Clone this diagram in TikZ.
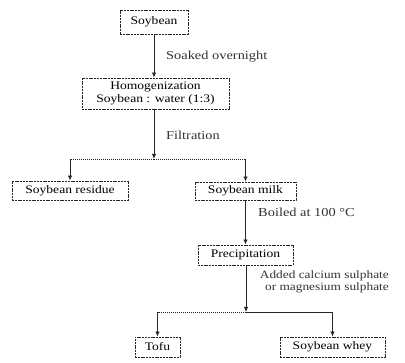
\documentclass[tikz,border=0pt]{standalone}
\usepackage{fontspec}
\setmainfont{Liberation Serif}[FakeStretch=1.18]
\usetikzlibrary{arrows.meta}
\begin{document}
\begin{tikzpicture}[x=1pt,y=-1pt,
  box/.style={draw=black!85,line width=0.9pt,dash pattern=on 2pt off 0.8pt,inner sep=0pt,font=\fontsize{11.5}{13}\selectfont,align=center},
  conn/.style={draw=black!85,line width=0.9pt,dash pattern=on 1.2pt off 0.8pt},
  solidconn/.style={draw=black!85,line width=0.9pt},
  tip/.style={-{Latex[length=5pt,width=4.5pt]}},
  lab/.style={font=\fontsize{12.2}{12.5}\selectfont,inner sep=0pt,text=black!80}]
\useasboundingbox (0,0) rectangle (405,363);
\node[box,minimum width=68pt,minimum height=24pt] (soy) at (154,22) {Soybean};
\node[box,minimum width=147pt,minimum height=31pt] (homo) at (155.5,93.5) {Homogenization\\Soybean : water (1:3)};
\node[box,minimum width=116pt,minimum height=19pt] (res) at (70,190.5) {Soybean residue};
\node[box,minimum width=101pt,minimum height=18pt] (milk) at (245.5,191) {Soybean milk};
\node[box,minimum width=95pt,minimum height=20pt] (prec) at (245.5,255) {Precipitation};
\node[box,minimum width=45pt,minimum height=20pt] (tofu) at (157.5,347) {Tofu};
\node[box,minimum width=105pt,minimum height=20pt] (whey) at (332.5,347) {Soybean whey};
\coordinate (j1) at (154,159);
\coordinate (j2) at (246,312);
\draw[conn,tip] (soy.south) -- (soy.south |- homo.north);
\draw[conn,tip] (homo.south -| j1) -- (j1);
\draw[conn] (j1) -- (res.north |- j1);
\draw[solidconn,tip] (res.north |- j1) -- (res.north);
\draw[conn,tip] (j1) -| (milk.north);
\draw[conn,tip] (milk.south) -- (milk.south |- prec.north);
\draw[conn,tip] (prec.south -| j2) -- (j2);
\draw[conn,tip] (j2) -| (tofu.north);
\draw[solidconn,tip] (j2) -| (whey.north);
\node[lab,anchor=west] (l1) at (166,57) {Soaked overnight};
\node[lab,anchor=west] (l2) at (166,135) {Filtration};
\node[lab,anchor=west] (l3) at (258,212) {Boiled at 100 °C};
\node[lab,anchor=north east,align=right,font=\fontsize{11.3}{12.5}\selectfont] (l4) at (389,270) {Added calcium sulphate\\or magnesium sulphate};
\end{tikzpicture}
\end{document}
